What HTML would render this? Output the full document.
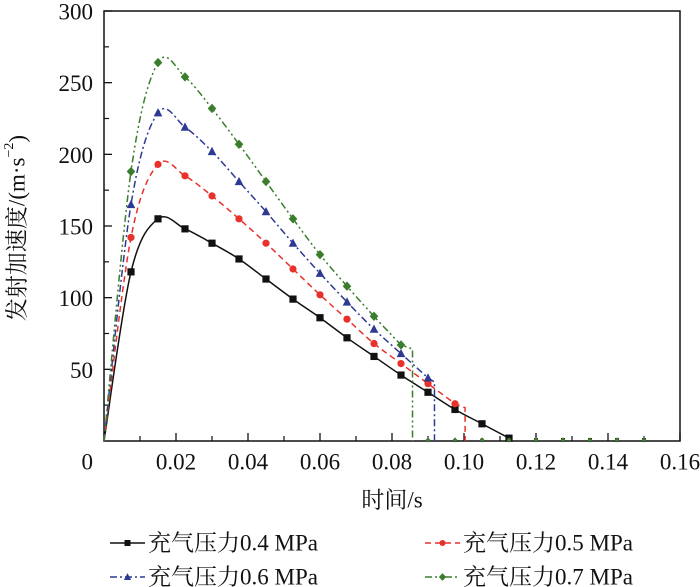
<!DOCTYPE html>
<html><head><meta charset="utf-8"><style>
html,body{margin:0;padding:0;background:#fff;width:700px;height:587px;overflow:hidden}
text{font-family:"Liberation Serif","Noto Serif CJK SC",serif;fill:#111}
</style></head><body>
<svg id="chart" width="700" height="587" viewBox="0 0 700 587" xmlns="http://www.w3.org/2000/svg">
<g id="plot"></g>
<text x="17" y="228" font-size="23" text-anchor="middle" dominant-baseline="central" transform="rotate(-90 17 228)">发射加速度/(m·s<tspan font-size="14" dy="-8">−2</tspan><tspan dy="8">)</tspan></text>
<text x="392" y="500" font-size="23" text-anchor="middle" dominant-baseline="central">时间/s</text>
<g id="legend"></g>
</svg>
<script>
const NS="http://www.w3.org/2000/svg";
const xTicks=[0,0.02,0.04,0.06,0.08,0.10,0.12,0.14,0.16];
const xTickLabels=["","0.02","0.04","0.06","0.08","0.10","0.12","0.14","0.16"];
const yTicks=[50,100,150,200,250,300];
const yTickLabels=["50","100","150","200","250","300"];
const markerStep=0.0075;
const s04=[0,118,155,148,138,127,113,99,86,72,59,46,34,22,12,2];
const s05=[0,142,193,185,171,155,138,120,102,85,68,54,40,26];
const s06=[0,165,229,219,202,181,160,138,117,97,78,61,44];
const s07=[0,188,264,254,232,207,181,155,130,108,87,67];
const dropX=[0.1125,0.1003,0.0918,0.0857];
const names=["充气压力0.4 MPa","充气压力0.5 MPa","充气压力0.6 MPa","充气压力0.7 MPa"];
const colors=["#111111","#e8312b","#2e3a92","#3a7d2c"];
const dashes=["","6,4","7,3,2,3","7,3,2,3,2,3"];
const shapes=["square","circle","triangle","diamond"];
const series=[s04,s05,s06,s07];
const X0=104,X1=680,Y0=441,Y1=11;
const xs=v=>X0+(v-0)/(0.16)*(X1-X0);
const ys=v=>Y0-(v/300)*(Y0-Y1);
const plot=document.getElementById('plot');
function mk(tag,attrs,parent){const e=document.createElementNS(NS,tag);for(const k in attrs)e.setAttribute(k,attrs[k]);(parent||plot).appendChild(e);return e;}
const fr=mk('rect',{x:X0,y:Y1,width:X1-X0,height:Y0-Y1,fill:'none',stroke:'#111','stroke-width':1.5});


for(let i=0;i<xTicks.length;i++){
  const x=xs(xTicks[i]);
  const t=mk('line',{x1:x,x2:x,y1:Y0,y2:Y0-8,stroke:'#111','stroke-width':1.3});
  
  
  if(i<xTicks.length-1){const xm=xs(xTicks[i]+0.01);mk('line',{x1:xm,x2:xm,y1:Y0,y2:Y0-5,stroke:'#111','stroke-width':1.2});}
  const lb=mk('text',{x:x,y:Y0+21,'font-size':23,'text-anchor':'middle','dominant-baseline':'central'});
  lb.textContent=xTickLabels[i];
  
  
}
for(let i=0;i<yTicks.length;i++){
  const y=ys(yTicks[i]);
  const t=mk('line',{x1:X0,x2:X0+8,y1:y,y2:y,stroke:'#111','stroke-width':1.3});
  
  
  const ym=ys(yTicks[i]-25);
  mk('line',{x1:X0,x2:X0+5,y1:ym,y2:ym,stroke:'#111','stroke-width':1.2});
  const lb=mk('text',{x:X0-11,y:y+1,'font-size':23,'text-anchor':'end','dominant-baseline':'central'});
  lb.textContent=yTickLabels[i];
  
  
}
const zl=mk('text',{x:X0-11,y:Y0+21,'font-size':23,'text-anchor':'end','dominant-baseline':'central'});
zl.textContent="0";


function marker(shape,x,y,c,parent,sz){
  sz=sz||3.6;let e;
  if(shape==='square')e=mk('rect',{x:x-sz,y:y-sz,width:2*sz,height:2*sz,fill:c},parent);
  else if(shape==='circle')e=mk('circle',{cx:x,cy:y,r:sz,fill:c},parent);
  else if(shape==='triangle')e=mk('polygon',{points:`${x},${y-sz*1.3} ${x-sz*1.2},${y+sz} ${x+sz*1.2},${y+sz}`,fill:c},parent);
  else e=mk('polygon',{points:`${x},${y-sz*1.3} ${x+sz*1.2},${y} ${x},${y+sz*1.3} ${x-sz*1.2},${y}`,fill:c},parent);
  return e;
}
function smooth(pts){
  let d=`M${pts[0][0]},${pts[0][1]}`;
  for(let i=0;i<pts.length-1;i++){
    const p0=pts[Math.max(0,i-1)],p1=pts[i],p2=pts[i+1],p3=pts[Math.min(pts.length-1,i+2)];
    const c1=[p1[0]+(p2[0]-p0[0])/6,p1[1]+(p2[1]-p0[1])/6];
    const c2=[p2[0]-(p3[0]-p1[0])/6,p2[1]-(p3[1]-p1[1])/6];
    d+=` C${c1[0]},${c1[1]} ${c2[0]},${c2[1]} ${p2[0]},${p2[1]}`;
  }
  return d;
}
series.forEach((s,si)=>{
  const g=mk('g',{});
  
  
  const pts=s.map((v,k)=>[xs(k*markerStep),ys(v)]);
  let d=smooth(pts);
  const last=pts[pts.length-1];
  if(si>0){d+=` L${xs(dropX[si])},${last[1]+4} L${xs(dropX[si])},${Y0}`;}
  else d+=` L${xs(dropX[si])},${Y0}`;
  const p=mk('path',{d:d,fill:'none',stroke:colors[si],'stroke-width':1.5,'stroke-dasharray':dashes[si]},g);
  
  
  s.forEach((v,k)=>{if(k===0)return;const m=marker(shapes[si],xs(k*markerStep),ys(v),colors[si],g);
    
    });
  for(let k=s.length;k<=20;k++){const m=marker(shapes[si],xs(k*markerStep),Y0-1,colors[si],g,2);
    
    }
});
const leg=document.getElementById('legend');
const lpos=[[110,543],[425,543],[110,577],[425,577]];
names.forEach((n,i)=>{
  const g=mk('g',{},leg);
  
  
  const [x,y]=lpos[i];
  mk('line',{x1:x,x2:x+35,y1:y,y2:y,stroke:colors[i],'stroke-width':1.5,'stroke-dasharray':dashes[i]},g);
  marker(shapes[i],x+17.5,y,colors[i],g,3);
  const t=mk('text',{x:x+38,y:y,'font-size':23,'dominant-baseline':'central'},g);
  t.textContent=n;
});
</script>
</body></html>
